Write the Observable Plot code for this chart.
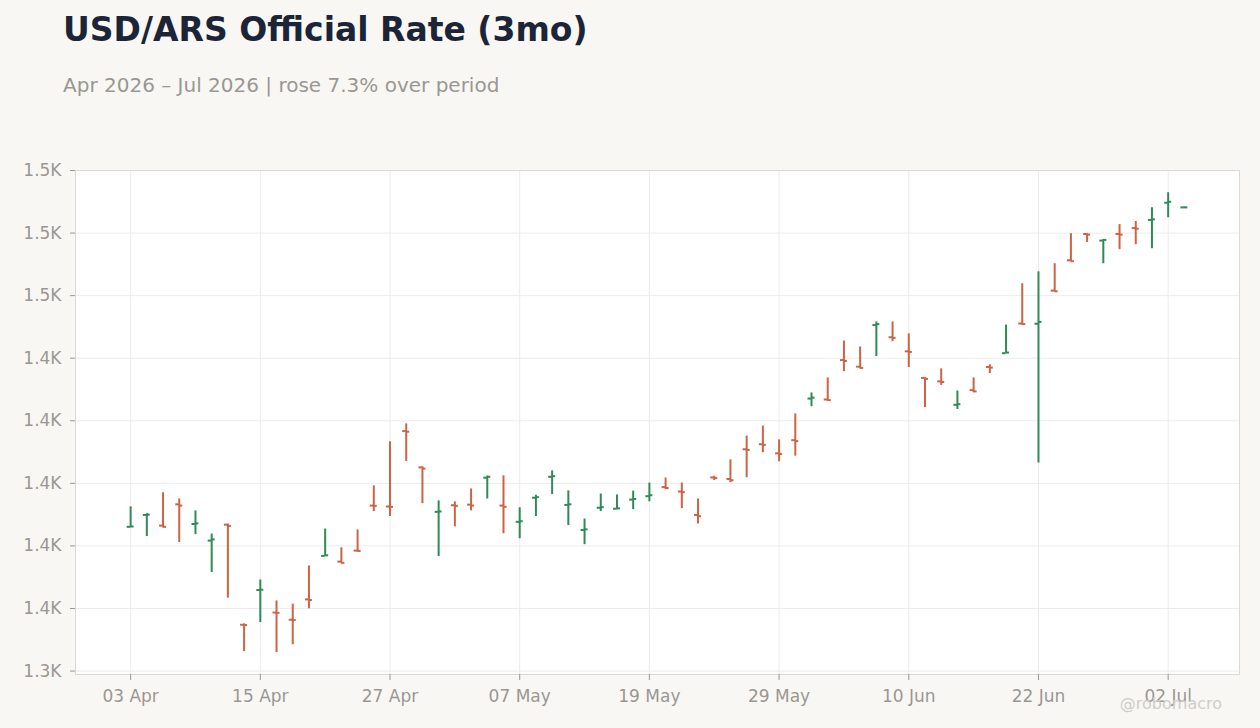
<!DOCTYPE html>
<html>
<head>
<meta charset="utf-8">
<script src="https://cdn.jsdelivr.net/npm/d3@7"></script>
<script src="https://cdn.jsdelivr.net/npm/@observablehq/plot@0.6"></script>
<style>
  html, body { margin: 0; padding: 0; background: #f8f7f4; }
  body { width: 1260px; height: 728px; position: relative; overflow: hidden; font-family: "DejaVu Sans", sans-serif; }
  #title { position: absolute; left: 63px; top: 13px; font-size: 33px; line-height: 1; font-weight: bold; color: #1b2537; white-space: nowrap; }
  #subtitle { position: absolute; left: 63px; top: 75px; font-size: 20px; line-height: 1; color: #9a9792; white-space: nowrap; }
  #chart { position: absolute; left: 0; top: 150px; }
  #wm { position: absolute; right: 38px; top: 696px; font-size: 16px; line-height: 1; color: #cfcdca; white-space: nowrap; }
</style>
</head>
<body>
<div id="title">USD/ARS Official Rate (3mo)</div>
<div id="subtitle">Apr 2026 – Jul 2026 | rose 7.3% over period</div>
<div id="chart"></div>
<div id="wm">@robomacro</div>
<script>
// Trading days (weekdays)
const dates = [
  "2026-04-03",
  "2026-04-06","2026-04-07","2026-04-08","2026-04-09","2026-04-10",
  "2026-04-13","2026-04-14","2026-04-15","2026-04-16","2026-04-17",
  "2026-04-20","2026-04-21","2026-04-22","2026-04-23","2026-04-24",
  "2026-04-27","2026-04-28","2026-04-29","2026-04-30","2026-05-01",
  "2026-05-04","2026-05-05","2026-05-06","2026-05-07","2026-05-08",
  "2026-05-11","2026-05-12","2026-05-13","2026-05-14","2026-05-15",
  "2026-05-18","2026-05-19","2026-05-20","2026-05-21","2026-05-22",
  "2026-05-25","2026-05-26","2026-05-27","2026-05-28","2026-05-29",
  "2026-06-01","2026-06-02","2026-06-03","2026-06-04","2026-06-05",
  "2026-06-08","2026-06-09","2026-06-10","2026-06-11","2026-06-12",
  "2026-06-15","2026-06-16","2026-06-17","2026-06-18","2026-06-19",
  "2026-06-22","2026-06-23","2026-06-24","2026-06-25","2026-06-26",
  "2026-06-29","2026-06-30","2026-07-01","2026-07-02","2026-07-03"
];
const opens = [
  1386.1, 1389.9, 1386.5, 1393.3, 1387.0, 1381.7, 1386.8, 1354.8, 1365.9, 1358.7,
  1356.4, 1362.9, 1376.8, 1375.0, 1378.5, 1392.9, 1392.6, 1416.7, 1405.1, 1390.9,
  1393.0, 1393.2, 1401.8, 1392.9, 1387.7, 1395.4, 1402.1, 1393.1, 1385.1, 1392.2,
  1391.9, 1394.8, 1395.9, 1398.8, 1397.4, 1389.9, 1401.9, 1401.4, 1410.9, 1412.5,
  1409.6, 1413.8, 1427.1, 1426.8, 1439.4, 1437.3, 1450.6, 1446.7, 1442.2, 1433.7,
  1432.6, 1425.1, 1429.8, 1437.2, 1441.6, 1451.1, 1451.0, 1461.6, 1471.3, 1479.7,
  1477.6, 1479.7, 1481.6, 1484.2, 1489.7, 1488.2
];
const highs = [
  1392.5, 1390.3, 1397.0, 1395.0, 1391.2, 1383.8, 1387.0, 1355.1, 1369.1, 1362.4,
  1361.4, 1373.6, 1385.4, 1379.4, 1385.1, 1399.2, 1413.3, 1419.0, 1405.3, 1394.4,
  1394.1, 1398.2, 1402.3, 1402.4, 1392.2, 1396.2, 1404.0, 1397.6, 1388.6, 1396.6,
  1396.3, 1397.5, 1400.1, 1401.7, 1400.1, 1395.0, 1402.3, 1407.5, 1415.1, 1418.3,
  1413.9, 1422.2, 1428.9, 1433.7, 1445.5, 1443.6, 1451.6, 1451.6, 1447.8, 1433.8,
  1436.6, 1429.5, 1433.7, 1437.9, 1450.6, 1463.8, 1467.6, 1470.2, 1479.8, 1479.8,
  1477.9, 1482.7, 1483.7, 1488.1, 1492.9, 1488.3
];
const lows = [
  1385.9, 1383.0, 1385.9, 1381.1, 1383.6, 1371.5, 1363.3, 1346.2, 1355.5, 1345.9,
  1348.4, 1359.9, 1376.7, 1374.5, 1378.3, 1391.0, 1389.4, 1407.0, 1393.5, 1376.6,
  1386.1, 1391.2, 1395.0, 1383.9, 1382.3, 1389.4, 1396.4, 1386.5, 1380.4, 1391.0,
  1391.6, 1391.6, 1394.1, 1398.0, 1391.9, 1387.0, 1400.9, 1400.2, 1401.8, 1409.8,
  1406.9, 1408.7, 1424.5, 1426.3, 1435.7, 1436.7, 1440.5, 1445.3, 1437.0, 1424.2,
  1431.3, 1423.6, 1429.0, 1435.1, 1441.5, 1450.6, 1406.5, 1461.3, 1470.9, 1477.0,
  1470.2, 1474.7, 1476.3, 1475.0, 1484.9, 1488.1
];
const closes = [
  1386.2, 1390.0, 1386.1, 1392.9, 1387.2, 1382.1, 1386.4, 1354.7, 1366.0, 1358.6,
  1356.3, 1362.7, 1377.0, 1374.6, 1378.4, 1392.8, 1392.5, 1416.5, 1404.7, 1391.0,
  1392.8, 1392.9, 1402.1, 1392.5, 1387.9, 1395.6, 1402.3, 1393.3, 1385.3, 1392.4,
  1392.0, 1395.0, 1396.2, 1398.5, 1397.2, 1389.5, 1401.7, 1401.0, 1410.7, 1412.3,
  1409.4, 1413.5, 1427.4, 1426.6, 1439.1, 1436.9, 1450.9, 1446.5, 1442.0, 1433.4,
  1432.4, 1425.3, 1429.4, 1437.0, 1441.8, 1450.9, 1451.6, 1461.4, 1471.0, 1479.5,
  1477.8, 1479.5, 1481.4, 1484.4, 1490.0, 1488.2
];
const yTicks = [1340, 1360, 1380, 1400, 1420, 1440, 1460, 1480, 1500];
const xTicks = ["2026-04-03","2026-04-15","2026-04-27","2026-05-07","2026-05-19","2026-05-29","2026-06-10","2026-06-22","2026-07-02"];
const xTickLabels = ["03 Apr","15 Apr","27 Apr","07 May","19 May","29 May","10 Jun","22 Jun","02 Jul"];

const UP = "#2e8b57", DOWN = "#cc6344";
const W = 1260, ML = 75, MR = 21, PAD_OUT = 2.9, TICK = 3.5;
const band = (W - ML - MR) / (dates.length + 2 * PAD_OUT);
const half = band / 2;

const data = dates.map((d, i) => ({date: d, open: opens[i], high: highs[i], low: lows[i], close: closes[i]}));
const col = d => d.close >= d.open ? UP : DOWN;
const yFmt = d => d3.format(".2s")(d).replace("k", "K");
const xFmt = d => xTickLabels[xTicks.indexOf(d)];

const chart = Plot.plot({
  width: W,
  height: 578,
  marginLeft: ML,
  marginRight: MR,
  marginTop: 20,
  marginBottom: 54,
  style: {background: "transparent", fontFamily: "DejaVu Sans", fontSize: "17px", color: "#9a9792"},
  x: {type: "band", domain: dates, paddingInner: 0, paddingOuter: PAD_OUT, round: false, label: null},
  y: {domain: [1338.9, 1500], label: null},
  color: {type: "identity"},
  marks: [
    Plot.frame({fill: "white", stroke: null}),
    Plot.gridY(yTicks, {stroke: "#ececec", strokeOpacity: 1}),
    Plot.gridX(xTicks, {stroke: "#ececec", strokeOpacity: 1}),
    Plot.frame({stroke: "#dcd8d3"}),
    Plot.axisY(yTicks, {tickFormat: yFmt, tickSize: 5, tickPadding: 9, stroke: "#9a9792", fill: "#9a9792", label: null}),
    Plot.axisX(xTicks, {tickFormat: xFmt, tickSize: 6, tickPadding: 9, stroke: "#9a9792", fill: "#9a9792", label: null}),
    Plot.ruleX(data, {x: "date", y1: "low", y2: "high", stroke: col, strokeWidth: 2}),
    Plot.tickY(data, {x: "date", y: "open", stroke: col, strokeWidth: 2, insetLeft: half - TICK, insetRight: half}),
    Plot.tickY(data, {x: "date", y: "close", stroke: col, strokeWidth: 2, insetLeft: half, insetRight: half - TICK})
  ]
});
document.getElementById("chart").appendChild(chart);
</script>
</body>
</html>
